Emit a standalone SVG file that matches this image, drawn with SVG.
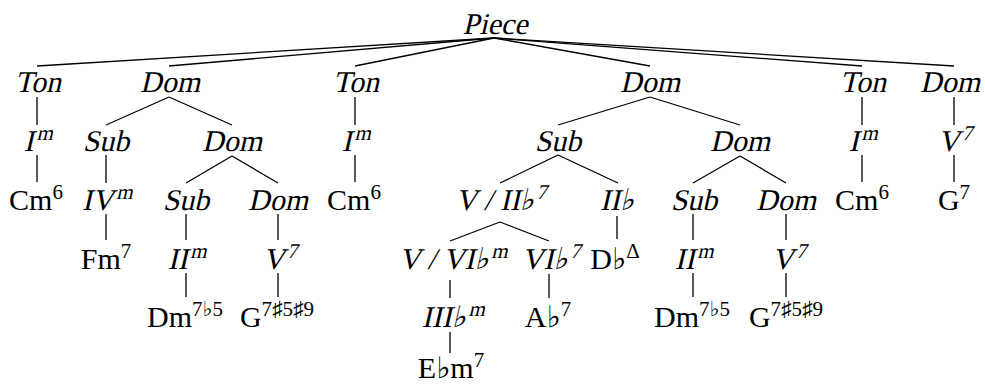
<svg xmlns="http://www.w3.org/2000/svg" width="985" height="385" viewBox="0 0 985 385">
<style>
text{font-family:"Liberation Serif","DejaVu Serif",serif;font-size:30px;font-style:normal;fill:#000;text-anchor:middle}
.sup{font-size:21px}
#edges line{stroke:#000;stroke-width:1.3;stroke-linecap:butt}
</style>
<rect width="985" height="385" fill="#fff"/>
<g id="edges">
<line x1="494" y1="38" x2="37" y2="66"/>
<line x1="494" y1="38" x2="169" y2="66"/>
<line x1="494" y1="38" x2="355" y2="66"/>
<line x1="494" y1="38" x2="650" y2="66"/>
<line x1="494" y1="38" x2="862" y2="66"/>
<line x1="494" y1="38" x2="954" y2="66"/>
<line x1="37" y1="97" x2="37" y2="125"/>
<line x1="37" y1="155" x2="37" y2="182"/>
<line x1="169" y1="97" x2="106" y2="125"/>
<line x1="169" y1="97" x2="232" y2="125"/>
<line x1="106" y1="155" x2="106" y2="183"/>
<line x1="106" y1="214" x2="106" y2="240"/>
<line x1="232" y1="156" x2="186" y2="183"/>
<line x1="232" y1="156" x2="278" y2="183"/>
<line x1="186" y1="214" x2="186" y2="240"/>
<line x1="186" y1="273" x2="186" y2="297"/>
<line x1="278" y1="214" x2="278" y2="240"/>
<line x1="278" y1="273" x2="278" y2="297"/>
<line x1="355" y1="97" x2="355" y2="125"/>
<line x1="355" y1="155" x2="355" y2="182"/>
<line x1="650" y1="97" x2="558" y2="125"/>
<line x1="650" y1="97" x2="740" y2="125"/>
<line x1="558" y1="155" x2="500" y2="183"/>
<line x1="558" y1="155" x2="618" y2="183"/>
<line x1="500" y1="222" x2="450" y2="241"/>
<line x1="500" y1="222" x2="549" y2="241"/>
<line x1="617" y1="216" x2="617" y2="239"/>
<line x1="450" y1="280" x2="450" y2="298"/>
<line x1="549" y1="274" x2="549" y2="298"/>
<line x1="450" y1="332" x2="450" y2="353"/>
<line x1="740" y1="156" x2="693" y2="183"/>
<line x1="740" y1="156" x2="786" y2="183"/>
<line x1="693" y1="214" x2="693" y2="240"/>
<line x1="693" y1="273" x2="693" y2="297"/>
<line x1="786" y1="214" x2="786" y2="240"/>
<line x1="786" y1="273" x2="786" y2="297"/>
<line x1="862" y1="97" x2="862" y2="125"/>
<line x1="862" y1="155" x2="862" y2="182"/>
<line x1="954" y1="97" x2="954" y2="125"/>
<line x1="954" y1="155" x2="954" y2="182"/>
</g>
<g id="n-piece"><text transform="translate(495,34) skewX(-13)">Piece</text></g>
<g id="n-ton1"><text transform="translate(38,92) skewX(-13)">Ton</text></g>
<g id="n-dom1"><text transform="translate(170,92) skewX(-13)">Dom</text></g>
<g id="n-ton2"><text transform="translate(356,92) skewX(-13)">Ton</text></g>
<g id="n-dom2"><text transform="translate(650,92) skewX(-13)">Dom</text></g>
<g id="n-ton3"><text transform="translate(863,92) skewX(-13)">Ton</text></g>
<g id="n-dom3"><text transform="translate(950,92) skewX(-13)">Dom</text></g>
<g id="n-i1"><text transform="translate(37,151) skewX(-13)">I<tspan class="sup" dy="-11">m</tspan></text></g>
<g id="n-sub1"><text transform="translate(106,151) skewX(-13)">Sub</text></g>
<g id="n-dom1b"><text transform="translate(232,151) skewX(-13)">Dom</text></g>
<g id="n-i2"><text transform="translate(355,151) skewX(-13)">I<tspan class="sup" dy="-11">m</tspan></text></g>
<g id="n-sub2"><text transform="translate(558,151) skewX(-13)">Sub</text></g>
<g id="n-dom2b"><text transform="translate(740,151) skewX(-13)">Dom</text></g>
<g id="n-i3"><text transform="translate(862,151) skewX(-13)">I<tspan class="sup" dy="-11">m</tspan></text></g>
<g id="n-v3"><text transform="translate(954,151) skewX(-13)">V<tspan class="sup" dy="-11">7</tspan></text></g>
<g id="n-cm1"><text x="36" y="210">Cm<tspan class="sup" dy="-11">6</tspan></text></g>
<g id="n-iv"><text transform="translate(106,210) skewX(-13)">IV<tspan class="sup" dy="-11">m</tspan></text></g>
<g id="n-sub1b"><text transform="translate(186,210) skewX(-13)">Sub</text></g>
<g id="n-dom1c"><text transform="translate(278,210) skewX(-13)">Dom</text></g>
<g id="n-cm2"><text x="354" y="210">Cm<tspan class="sup" dy="-11">6</tspan></text></g>
<g id="n-v-iib"><text transform="translate(500,210) skewX(-13)">V / II♭<tspan class="sup" dy="-11">7</tspan></text></g>
<g id="n-iib"><text transform="translate(617,210) skewX(-13)">II♭</text></g>
<g id="n-sub2b"><text transform="translate(694,210) skewX(-13)">Sub</text></g>
<g id="n-dom2c"><text transform="translate(786,210) skewX(-13)">Dom</text></g>
<g id="n-cm3"><text x="862" y="210">Cm<tspan class="sup" dy="-11">6</tspan></text></g>
<g id="n-g7"><text x="954" y="210">G<tspan class="sup" dy="-11">7</tspan></text></g>
<g id="n-fm7"><text x="106" y="269">Fm<tspan class="sup" dy="-11">7</tspan></text></g>
<g id="n-ii1"><text transform="translate(186,269) skewX(-13)">II<tspan class="sup" dy="-11">m</tspan></text></g>
<g id="n-v1"><text transform="translate(279,269) skewX(-13)">V<tspan class="sup" dy="-11">7</tspan></text></g>
<g id="n-v-vib"><text transform="translate(452,269) skewX(-13)">V / VI♭<tspan class="sup" dy="-11">m</tspan></text></g>
<g id="n-vib"><text transform="translate(550,269) skewX(-13)">VI♭<tspan class="sup" dy="-11">7</tspan></text></g>
<g id="n-db"><text x="615" y="269">D♭<tspan class="sup" dy="-11">Δ</tspan></text></g>
<g id="n-ii2"><text transform="translate(693,269) skewX(-13)">II<tspan class="sup" dy="-11">m</tspan></text></g>
<g id="n-v2"><text transform="translate(788,269) skewX(-13)">V<tspan class="sup" dy="-11">7</tspan></text></g>
<g id="n-dm1"><text x="185" y="327">Dm<tspan class="sup" dy="-11">7♭5</tspan></text></g>
<g id="n-g1"><text x="277" y="327">G<tspan class="sup" dy="-11">7♯5♯9</tspan></text></g>
<g id="n-iiib"><text transform="translate(452,327) skewX(-13)">III♭<tspan class="sup" dy="-11">m</tspan></text></g>
<g id="n-ab"><text x="548" y="327">A♭<tspan class="sup" dy="-11">7</tspan></text></g>
<g id="n-dm2"><text x="692" y="327">Dm<tspan class="sup" dy="-11">7♭5</tspan></text></g>
<g id="n-g2"><text x="786" y="327">G<tspan class="sup" dy="-11">7♯5♯9</tspan></text></g>
<g id="n-eb"><text x="451" y="378">E♭m<tspan class="sup" dy="-11">7</tspan></text></g>
</svg>
